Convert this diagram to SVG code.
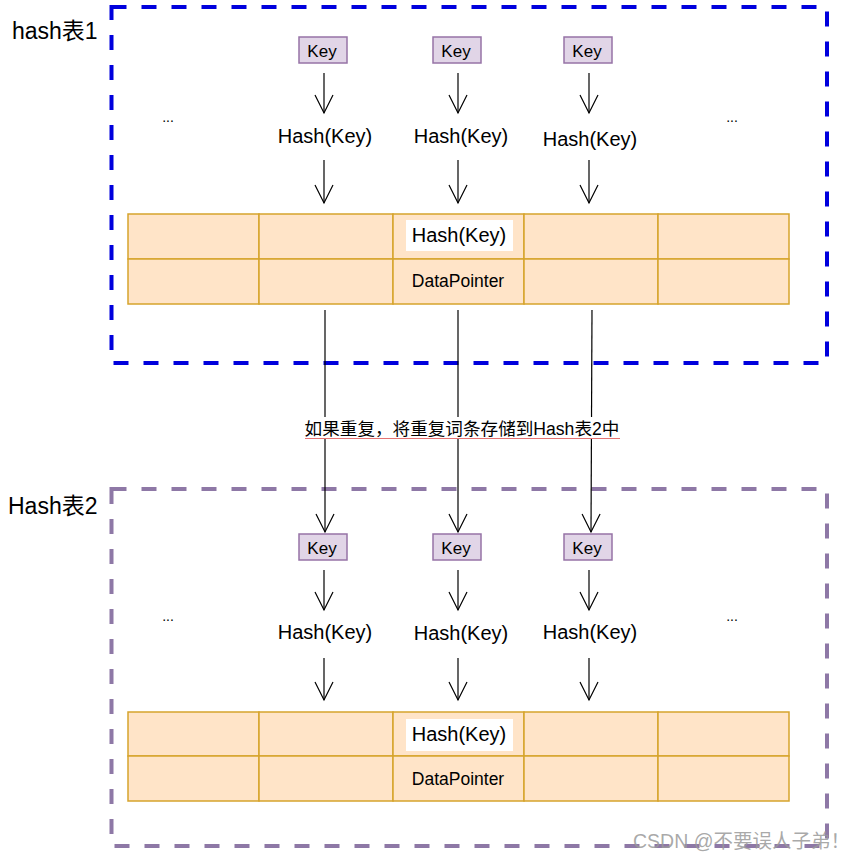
<svg xmlns="http://www.w3.org/2000/svg" width="853" height="862" viewBox="0 0 853 862">
<style>
text{font-family:"Liberation Sans","Noto Sans CJK SC",sans-serif;fill:#000}
.frame1{fill:none;stroke:#0000dd;stroke-width:4;stroke-dasharray:15 15}
.frame2{fill:none;stroke:#8e78a6;stroke-width:4;stroke-dasharray:15 15}
.cell{fill:#ffe4c8;stroke:#d6a42c;stroke-width:1.5}
.key rect{fill:#e1d5e7;stroke:#9673a6;stroke-width:1.5}
.key text{font-size:17px;text-anchor:middle}
.hk{font-size:20px;text-anchor:middle}
.dp{font-size:17.5px;text-anchor:middle}
.dots{font-size:14px;text-anchor:middle}
.title{font-size:23px}
.arrow{stroke:#000;stroke-width:1.2;fill:none;marker-end:url(#open)}
</style>
<defs>
<marker id="open" markerUnits="userSpaceOnUse" viewBox="-20 -10 22 20" markerWidth="22" markerHeight="20" refX="0" refY="0" orient="auto">
<path d="M-18,-9 L0,0 L-18,9" fill="none" stroke="#000" stroke-width="1.2"/>
</marker>
</defs>
<rect width="853" height="862" fill="#fff"/>

<g id="hash1">
<rect class="frame1" x="111.5" y="7" width="715.5" height="356"/>
<text class="title" x="12" y="39">hash表1</text>
</g>
<g id="hash2">
<rect class="frame2" x="111.5" y="489" width="715.5" height="357"/>
<text class="title" x="8" y="514">Hash表2</text>
</g>

<g id="table1">
<rect class="cell" x="128" y="214" width="131" height="45"/>
<rect class="cell" x="259" y="214" width="134" height="45"/>
<rect class="cell" x="393" y="214" width="131" height="45"/>
<rect class="cell" x="524" y="214" width="134" height="45"/>
<rect class="cell" x="658" y="214" width="131" height="45"/>
<rect class="cell" x="128" y="259" width="131" height="45"/>
<rect class="cell" x="259" y="259" width="134" height="45"/>
<rect class="cell" x="393" y="259" width="131" height="45"/>
<rect class="cell" x="524" y="259" width="134" height="45"/>
<rect class="cell" x="658" y="259" width="131" height="45"/>
<rect x="406" y="220" width="107" height="31" fill="#fff"/>
<text class="hk" x="459" y="242">Hash(Key)</text>
<text class="dp" x="458" y="287">DataPointer</text>
</g>

<g id="table2">
<rect class="cell" x="128" y="712" width="131" height="44"/>
<rect class="cell" x="259" y="712" width="134" height="44"/>
<rect class="cell" x="393" y="712" width="131" height="44"/>
<rect class="cell" x="524" y="712" width="134" height="44"/>
<rect class="cell" x="658" y="712" width="131" height="44"/>
<rect class="cell" x="128" y="756" width="131" height="45"/>
<rect class="cell" x="259" y="756" width="134" height="45"/>
<rect class="cell" x="393" y="756" width="131" height="45"/>
<rect class="cell" x="524" y="756" width="134" height="45"/>
<rect class="cell" x="658" y="756" width="131" height="45"/>
<rect x="406" y="719" width="107" height="32" fill="#fff"/>
<text class="hk" x="459" y="741">Hash(Key)</text>
<text class="dp" x="458" y="785">DataPointer</text>
</g>

<g id="keys1">
<g class="key"><rect x="299" y="37" width="48" height="26"/><text x="322" y="57">Key</text></g>
<g class="key"><rect x="433" y="37" width="48" height="26"/><text x="456" y="57">Key</text></g>
<g class="key"><rect x="564" y="37" width="48" height="26"/><text x="587" y="57">Key</text></g>
</g>
<g id="keys2">
<g class="key"><rect x="299" y="534" width="48" height="26"/><text x="322" y="554">Key</text></g>
<g class="key"><rect x="433" y="534" width="48" height="26"/><text x="456" y="554">Key</text></g>
<g class="key"><rect x="564" y="534" width="48" height="26"/><text x="587" y="554">Key</text></g>
</g>

<g id="hashes1">
<text class="hk" x="325" y="143">Hash(Key)</text>
<text class="hk" x="461" y="143">Hash(Key)</text>
<text class="hk" x="590" y="146">Hash(Key)</text>
<text class="dots" x="168" y="122">...</text>
<text class="dots" x="732" y="122">...</text>
</g>
<g id="hashes2">
<text class="hk" x="325" y="639">Hash(Key)</text>
<text class="hk" x="461" y="640">Hash(Key)</text>
<text class="hk" x="590" y="639">Hash(Key)</text>
<text class="dots" x="168" y="621">...</text>
<text class="dots" x="732" y="621">...</text>
</g>

<g id="connectors">
<line class="arrow" x1="324" y1="73" x2="324" y2="113"/>
<line class="arrow" x1="458" y1="73" x2="458" y2="113"/>
<line class="arrow" x1="589" y1="73" x2="589" y2="113"/>
<line class="arrow" x1="324" y1="160" x2="324" y2="203"/>
<line class="arrow" x1="458" y1="160" x2="458" y2="203"/>
<line class="arrow" x1="589" y1="160" x2="589" y2="203"/>
<line class="arrow" x1="325" y1="310" x2="325" y2="532"/>
<line class="arrow" x1="458" y1="310" x2="458" y2="532"/>
<line class="arrow" x1="592" y1="310" x2="591" y2="532"/>
<line class="arrow" x1="324" y1="570" x2="324" y2="610"/>
<line class="arrow" x1="458" y1="570" x2="458" y2="610"/>
<line class="arrow" x1="589" y1="570" x2="589" y2="610"/>
<line class="arrow" x1="324" y1="658" x2="324" y2="700"/>
<line class="arrow" x1="458" y1="658" x2="458" y2="700"/>
<line class="arrow" x1="589" y1="658" x2="589" y2="700"/>
<g id="edge-label">
<rect x="305" y="417" width="315" height="21" fill="#fff"/>
<text x="462" y="435" font-size="17.6" text-anchor="middle">如果重复，将重复词条存储到Hash表2中</text>
<line x1="305" y1="438.5" x2="620" y2="438.5" stroke="#e57373" stroke-width="1"/>
</g>
</g>

<text x="633" y="848" font-size="19.5" style="fill:#9a9a9a;fill-opacity:0.85">CSDN @不要误人子弟！</text>
</svg>
